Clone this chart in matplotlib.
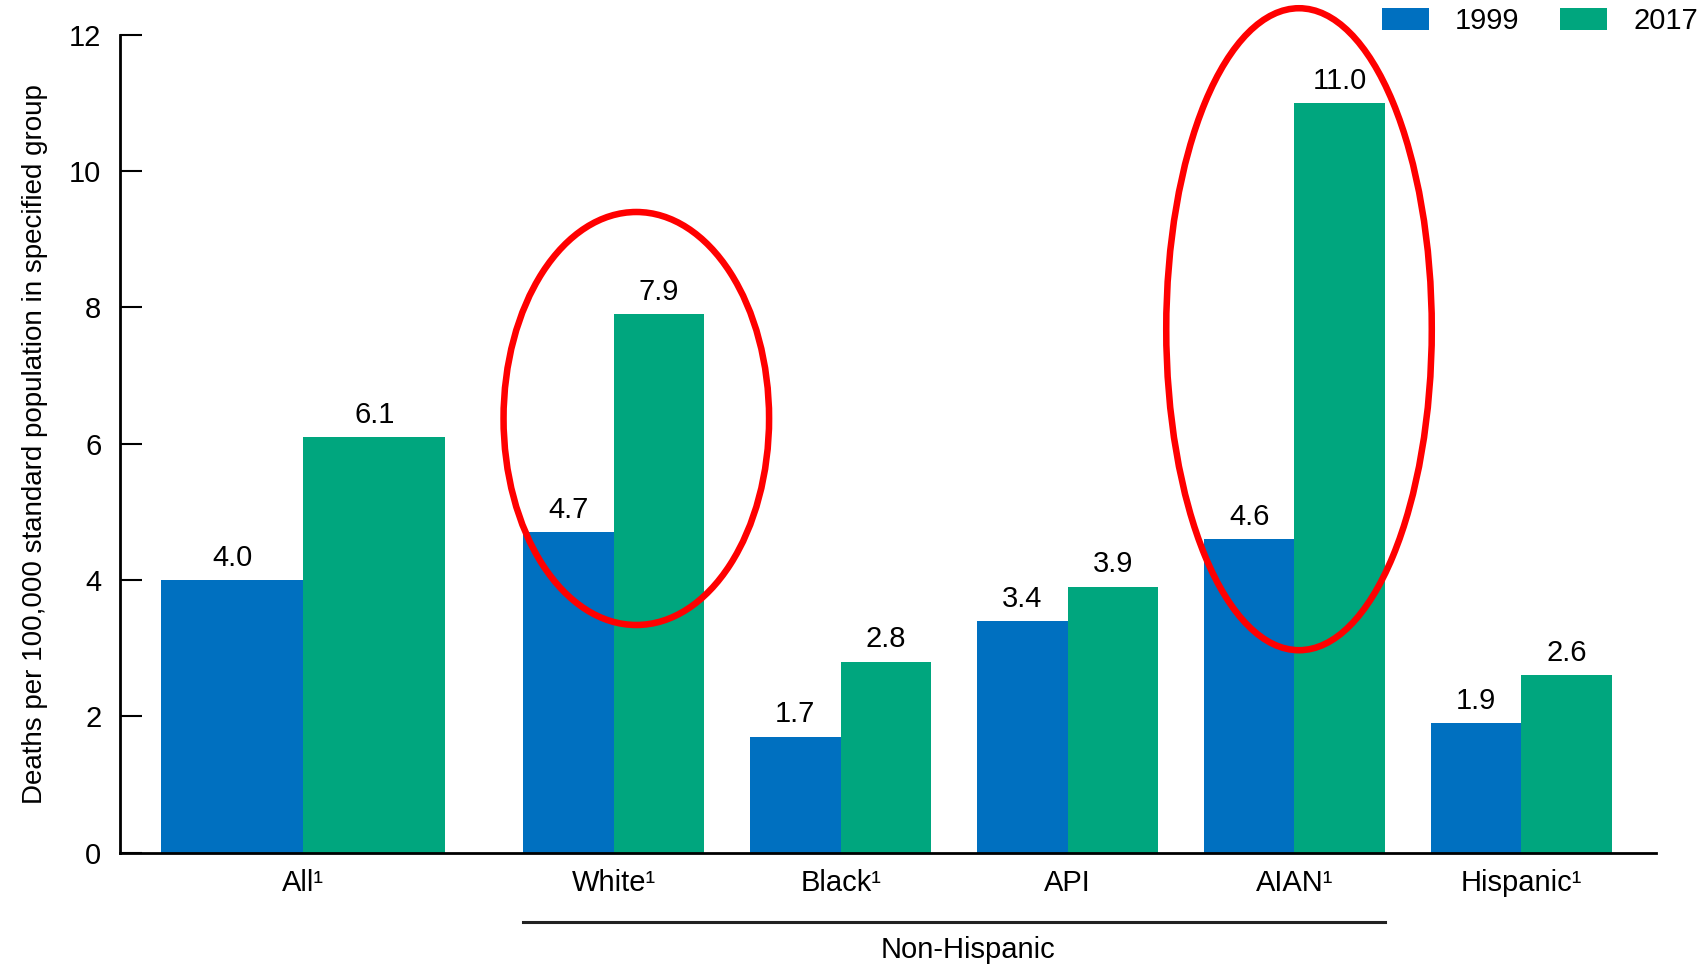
import matplotlib
matplotlib.use("Agg")
import matplotlib.pyplot as plt
from matplotlib.patches import Ellipse
import numpy as np

plt.rcParams['font.family'] = ['Liberation Sans', 'DejaVu Sans']

groups = ["All¹", "White¹", "Black¹", "API", "AIAN¹", "Hispanic¹"]
years = ["1999", "2017"]
rates_1999 = [4.0, 4.7, 1.7, 3.4, 4.6, 1.9]
rates_2017 = [6.1, 7.9, 2.8, 3.9, 11.0, 2.6]
colors = ["#0070C0", "#00A67E"]

# "All" group is drawn wider than the others
centers = np.array([0.632, 2.0, 3.0, 4.0, 5.0, 6.0])
widths = np.array([0.627, 0.40, 0.40, 0.40, 0.40, 0.40])

fig = plt.figure(figsize=(17.03, 9.67), dpi=100)
ax = fig.add_axes([0.0702, 0.1183, 0.9022, 0.8457])

b1 = ax.bar(centers - widths / 2, rates_1999, widths, color=colors[0], label=years[0])
b2 = ax.bar(centers + widths / 2, rates_2017, widths, color=colors[1], label=years[1])

for bars, vals in [(b1, rates_1999), (b2, rates_2017)]:
    for r, v in zip(bars, vals):
        ax.annotate(f"{v:.1f}", (r.get_x() + r.get_width() / 2, v),
                    xytext=(0, 6), textcoords="offset points",
                    ha="center", va="bottom", fontsize=21)

ax.set_xlim(-0.177, 6.593)
ax.set_ylim(0, 12)
ax.set_yticks(range(0, 13, 2))
ax.set_xticks(centers)
ax.set_xticklabels(groups, fontsize=21)
ax.tick_params(axis="x", length=0, pad=12)
ax.tick_params(axis="y", direction="in", length=16, width=1.5, labelsize=21, pad=13)
ax.set_ylabel("Deaths per 100,000 standard population in specified group", fontsize=20, labelpad=15)

for s in ["top", "right"]:
    ax.spines[s].set_visible(False)
for s in ["left", "bottom"]:
    ax.spines[s].set_linewidth(2)

# Non-Hispanic bracket
x0 = centers[1] - widths[1]
x1 = centers[4] + widths[4]
ax.plot([x0, x1], [-1.02, -1.02], color="#222222", lw=2.2, clip_on=False)
ax.text((x0 + x1) / 2 + 0.06, -1.43, "Non-Hispanic", ha="center", va="center", fontsize=21)

# red highlight ellipses
ax.add_patch(Ellipse((2.1, 6.37), 1.17, 6.06, fill=False, edgecolor="red", lw=4.7, clip_on=False))
ax.add_patch(Ellipse((5.02, 7.68), 1.17, 9.42, fill=False, edgecolor="red", lw=4.7, clip_on=False))

ax.legend(loc="upper right", bbox_to_anchor=(1.004, 1.005), bbox_transform=fig.transFigure,
          ncol=2, frameon=False, fontsize=21, handlelength=1.6, handleheight=0.8,
          handletextpad=0.9, columnspacing=1.4, borderaxespad=0)

fig.savefig("out.png", dpi=100)
